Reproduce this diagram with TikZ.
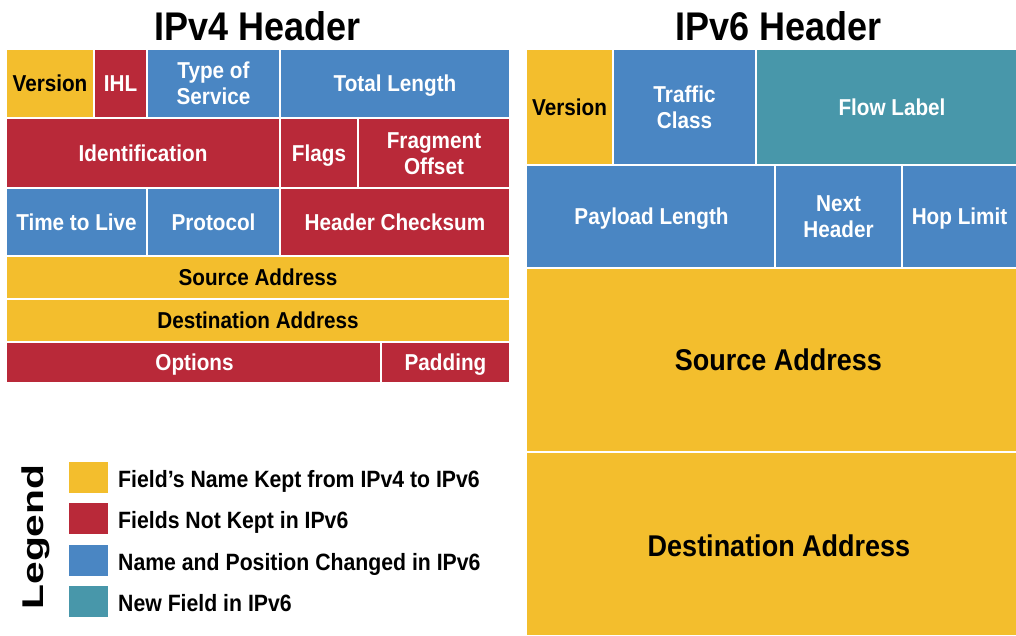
\documentclass[tikz,border=0pt]{standalone}
\usepackage{fontspec}
\usepackage{graphicx}
\setmainfont{Liberation Sans}[FakeStretch=0.9]
\definecolor{cyel}{RGB}{243,190,45}
\definecolor{cred}{RGB}{185,41,57}
\definecolor{cblue}{RGB}{74,134,195}
\definecolor{cteal}{RGB}{72,151,170}
% one-line field: name, x1, y1, x2, y2, style, text, text x-shift
\newcommand\fld[8]{%
  \pgfmathsetmacro\fw{#4-#2}\pgfmathsetmacro\fh{#5-#3}%
  \pgfmathsetmacro\fx{(#2+#4)/2}\pgfmathsetmacro\fy{(#3+#5)/2}%
  \node[#6, minimum width=\fw pt, minimum height=\fh pt] (#1) at (\fx,\fy) {};
  \node[#6txt, anchor=base] (#1-t) at ([xshift=#8pt,yshift=-8.35pt]#1.center) {#7};}
% two-line field
\newcommand\fldii[8]{%
  \pgfmathsetmacro\fw{#4-#2}\pgfmathsetmacro\fh{#5-#3}%
  \pgfmathsetmacro\fx{(#2+#4)/2}\pgfmathsetmacro\fy{(#3+#5)/2}%
  \node[#6, minimum width=\fw pt, minimum height=\fh pt] (#1) at (\fx,\fy) {};
  \node[#6txt, anchor=base] (#1-t) at ([yshift=4.65pt]#1.center) {#7};
  \node[#6txt, anchor=base] (#1-u) at ([yshift=-21.35pt]#1.center) {#8};}
\tikzset{
  cellbase/.style={inner sep=0pt},
  yel/.style={cellbase, fill=cyel},
  red/.style={cellbase, fill=cred},
  blue/.style={cellbase, fill=cblue},
  teal/.style={cellbase, fill=cteal},
  bigyel/.style={cellbase, fill=cyel},
  txtbase/.style={inner sep=0pt, font=\bfseries\fontsize{23}{26}\selectfont},
  yeltxt/.style={txtbase, text=black},
  redtxt/.style={txtbase, text=white},
  bluetxt/.style={txtbase, text=white},
  tealtxt/.style={txtbase, text=white},
  bigyeltxt/.style={inner sep=0pt, text=black, font=\bfseries\fontsize{30}{34}\selectfont},
  title/.style={font=\bfseries\fontsize{40}{44}\selectfont, anchor=base, inner sep=0pt},
  legtext/.style={font=\bfseries\fontsize{23.6}{26}\selectfont, anchor=base west, inner sep=0pt},
  legsq/.style={inner sep=0pt, minimum width=39pt, minimum height=31pt}
}
\begin{document}
\begin{tikzpicture}[x=1pt,y=-1pt]
\useasboundingbox[fill=white] (0,0) rectangle (1016,635);
% titles
\node[title] (t4) at (257.5,40) {IPv4 Header};
\node[title] (t6) at (778.5,40) {IPv6 Header};
% IPv4
\fld{v4ver}{7}{50}{93}{117}{yel}{Version}{0}
\fld{v4ihl}{95}{50}{146}{117}{red}{IHL}{0}
\fldii{v4tos}{148}{50}{279}{117}{blue}{Type of}{Service}
\fld{v4tl}{281}{50}{509}{117}{blue}{Total Length}{0}
\fld{v4id}{7}{119}{279}{187}{red}{Identification}{0}
\fld{v4fl}{281}{119}{357}{187}{red}{Flags}{0}
\fldii{v4fo}{359}{119}{509}{187}{red}{Fragment}{Offset}
\fld{v4ttl}{7}{189}{146}{255}{blue}{Time to Live}{0}
\fld{v4pr}{148}{189}{279}{255}{blue}{Protocol}{0}
\fld{v4hc}{281}{189}{509}{255}{red}{Header Checksum}{0}
\fld{v4src}{7}{257}{509}{298}{yel}{Source Address}{0}
\fld{v4dst}{7}{300}{509}{341}{yel}{Destination Address}{0}
\fld{v4opt}{7}{343}{380}{382}{red}{Options}{1}
\fld{v4pad}{382}{343}{509}{382}{red}{Padding}{0}
% IPv6
\fld{v6ver}{527}{50}{612}{164}{yel}{Version}{0}
\fldii{v6tc}{614}{50}{755}{164}{blue}{Traffic}{Class}
\fld{v6fl}{757}{50}{1016}{164}{teal}{Flow Label}{5.5}
\fld{v6pl}{527}{166}{774}{267}{blue}{Payload Length}{1}
\fldii{v6nh}{776}{166}{901}{267}{blue}{Next}{Header}
\fld{v6hl}{903}{166}{1016}{267}{blue}{Hop Limit}{0}
% big fields
\node[bigyel, minimum width=489pt, minimum height=182pt] (v6src) at (771.5,360) {};
\node[bigyeltxt, anchor=base] (v6src-t) at (778.5,370) {Source Address};
\node[bigyel, minimum width=489pt, minimum height=182pt] (v6dst) at (771.5,544) {};
\node[bigyeltxt, anchor=base] (v6dst-t) at (779,556) {Destination Address};
% legend
\node[anchor=base, rotate=90, inner sep=0pt, font=\bfseries\fontsize{30}{36}\selectfont] (leg) at (43.3,537) {\scalebox{1.51}[1]{Legend}};
\node[legsq, fill=cyel] (sq1) at (88.5,477.5) {};
\node[legsq, fill=cred] (sq2) at (88.5,518.5) {};
\node[legsq, fill=cblue] (sq3) at (88.5,560) {};
\node[legsq, fill=cteal] (sq4) at (88.5,601) {};
\node[legtext] (l1) at (118,487.5) {Field’s Name Kept from IPv4 to IPv6};
\node[legtext] (l2) at (118,528.5) {Fields Not Kept in IPv6};
\node[legtext] (l3) at (118,570) {Name and Position Changed in IPv6};
\node[legtext] (l4) at (118,611) {New Field in IPv6};
\end{tikzpicture}
\end{document}
